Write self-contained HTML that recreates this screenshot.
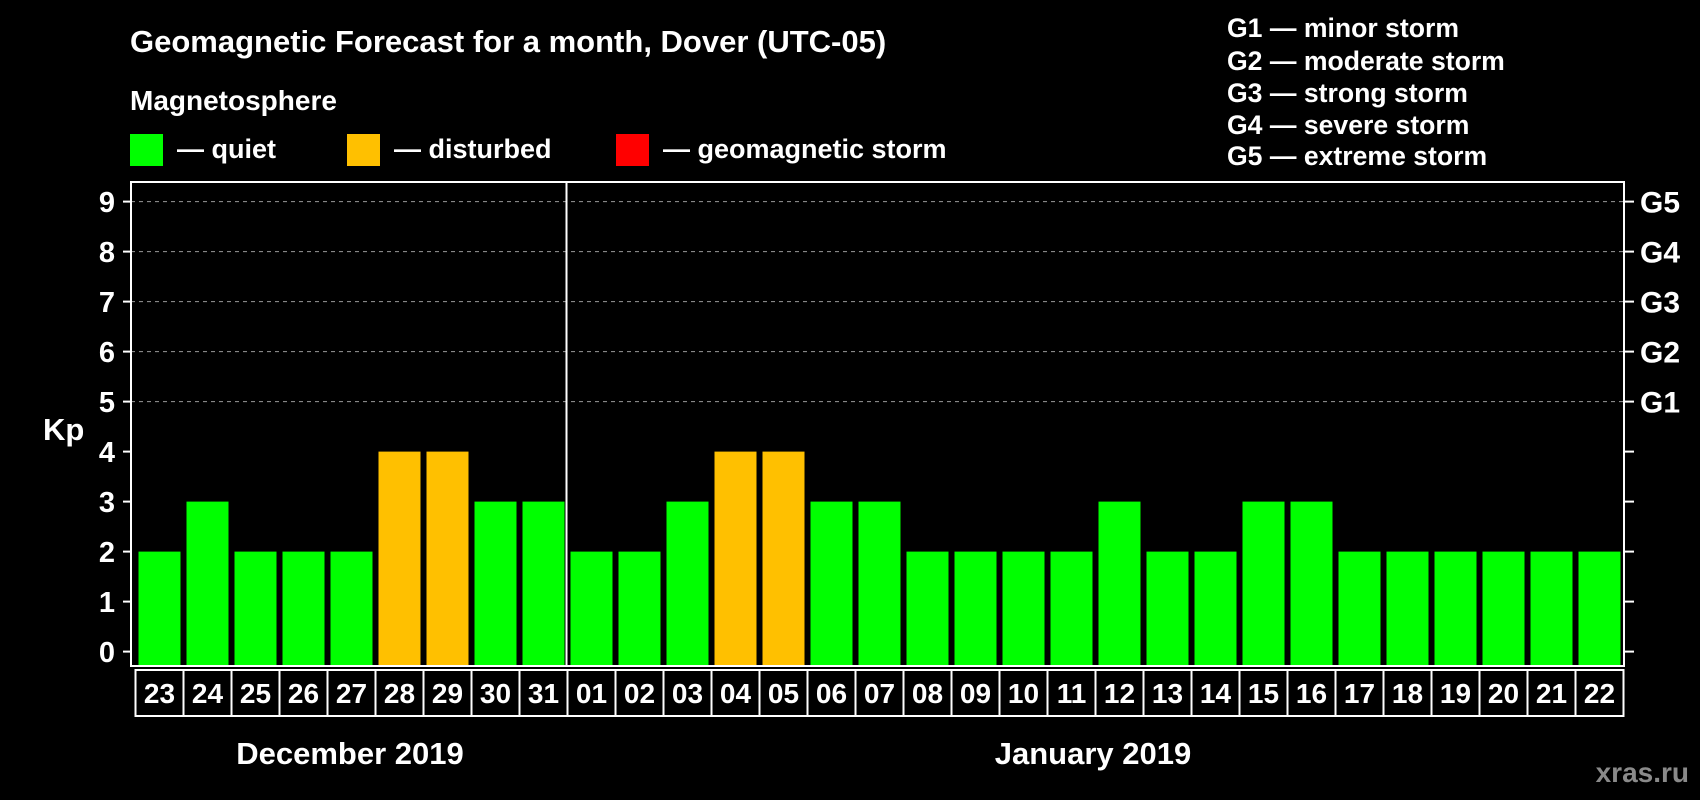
<!DOCTYPE html>
<html><head><meta charset="utf-8"><style>
html,body{margin:0;padding:0;background:#000;}
svg{display:block;font-family:"Liberation Sans",Arial,sans-serif;font-weight:bold;}
</style></head><body>
<svg id="chart" width="1700" height="800" viewBox="0 0 1700 800">
<rect width="1700" height="800" fill="#000"/>
<text x="130" y="52" fill="#fff" font-size="31">Geomagnetic Forecast for a month, Dover (UTC-05)</text>
<text x="130" y="110" fill="#fff" font-size="28">Magnetosphere</text>
<g><rect x="130" y="134" width="33" height="32" fill="#00ff00"/><text x="177" y="158" fill="#fff" font-size="27">— quiet</text></g>
<g><rect x="347" y="134" width="33" height="32" fill="#ffc000"/><text x="394" y="158" fill="#fff" font-size="27">— disturbed</text></g>
<g><rect x="616" y="134" width="33" height="32" fill="#ff0000"/><text x="663" y="158" fill="#fff" font-size="27">— geomagnetic storm</text></g>
<g fill="#fff" font-size="26.6">
<text x="1227" y="37">G1 — minor storm</text>
<text x="1227" y="70">G2 — moderate storm</text>
<text x="1227" y="102">G3 — strong storm</text>
<text x="1227" y="134">G4 — severe storm</text>
<text x="1227" y="165">G5 — extreme storm</text>
</g>
<text x="43" y="440" fill="#fff" font-size="31">Kp</text>
<g id="grid"></g>
<g id="bars"></g>
<g id="axes"></g>
<text x="350" y="764" fill="#fff" font-size="31" text-anchor="middle">December 2019</text>
<text x="1093" y="764" fill="#fff" font-size="31" text-anchor="middle">January 2019</text>
<text x="1689" y="782" fill="#8a8a8a" font-size="28" text-anchor="end">xras.ru</text>
</svg>
<script>
const days = ["23","24","25","26","27","28","29","30","31","01","02","03","04","05","06","07","08","09","10","11","12","13","14","15","16","17","18","19","20","21","22"];
const kp = [2,3,2,2,2,4,4,3,3,2,2,3,4,4,3,3,2,2,2,2,3,2,2,3,3,2,2,2,2,2,2];
const yTicks = [0,1,2,3,4,5,6,7,8,9];
const gLabels = ["G1","G2","G3","G4","G5"];
const gLevels = [5,6,7,8,9];
const NS="http://www.w3.org/2000/svg";
const L=131,R=1624,T=182,B=666;
const y=v=>651.6-v*50;
const x=i=>138.5+i*48;
function mk(t,a,p){const e=document.createElementNS(NS,t);for(const k in a)e.setAttribute(k,a[k]);p.appendChild(e);return e;}
const grid=document.getElementById('grid'),bars=document.getElementById('bars'),axes=document.getElementById('axes');
gLevels.forEach(v=>{const l=mk('line',{x1:L,x2:R,y1:y(v),y2:y(v),stroke:'#999','stroke-dasharray':'4,4','stroke-width':1},grid);

});
kp.forEach((v,i)=>{const r=mk('rect',{x:x(i),y:y(v),width:42,height:B-y(v),fill:v>=5?'#ff0000':(v>=4?'#ffc000':'#00ff00')},bars);

});
const fr=mk('rect',{x:L,y:T,width:R-L,height:B-T,fill:'none',stroke:'#fff','stroke-width':2},axes);


const dv=mk('line',{x1:566.5,x2:566.5,y1:T,y2:B,stroke:'#fff','stroke-width':2},axes);


yTicks.forEach(v=>{mk('line',{x1:123,x2:L,y1:y(v),y2:y(v),stroke:'#fff','stroke-width':2},axes);
mk('line',{x1:R,x2:1634,y1:y(v),y2:y(v),stroke:'#fff','stroke-width':2},axes);
const t=mk('text',{x:115,y:y(v)+10.5,fill:'#fff','font-size':29,'text-anchor':'end'},axes);t.textContent=v;

});
gLabels.forEach((g,i)=>{const t=mk('text',{x:1640,y:y(gLevels[i])+11,fill:'#fff','font-size':30},axes);t.textContent=g;

});
days.forEach((d,i)=>{const bx=135.5+i*48;
const r=mk('rect',{x:bx,y:670,width:48,height:46,fill:'none',stroke:'#fff','stroke-width':2},axes);


const t=mk('text',{x:bx+24,y:703,fill:'#fff','font-size':28,'text-anchor':'middle'},axes);t.textContent=d;

});
</script>
</body></html>
